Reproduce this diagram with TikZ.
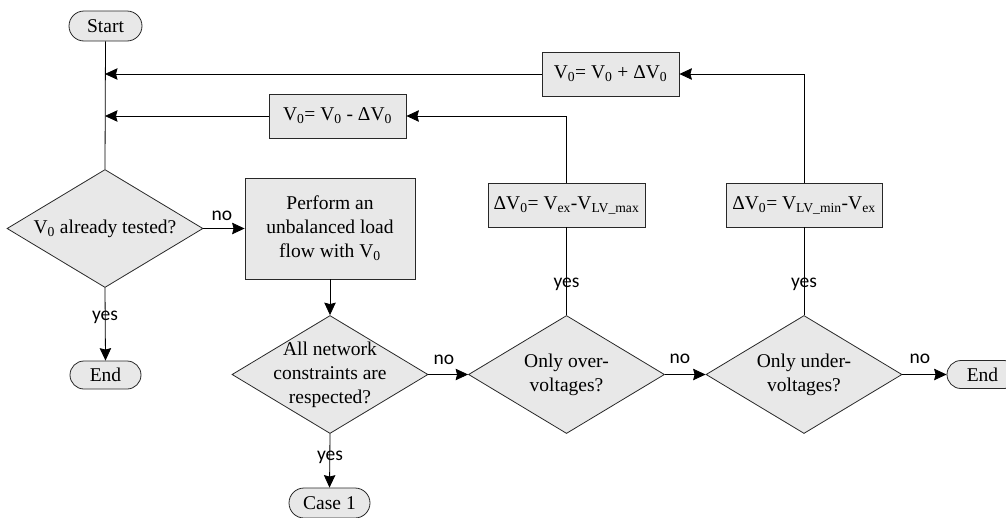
\documentclass[tikz,border=0pt]{standalone}
\usepackage{fontspec}
\setmainfont{Liberation Serif}
\newfontfamily\labelfont{Carlito}
\usetikzlibrary{shapes.geometric,shapes.misc,arrows.meta}
\definecolor{boxgray}{RGB}{232,232,232}
\definecolor{edgegray}{RGB}{40,40,40}
\begin{document}
\begin{tikzpicture}[x=1pt,y=-1pt,
  txt/.style={font=\fontsize{19.5}{24}\selectfont, align=center, inner sep=0pt},
  proc/.style={rectangle, draw=edgegray, fill=boxgray, line width=0.8pt, inner sep=0pt, txt},
  term/.style={rounded rectangle, draw=edgegray, fill=boxgray, line width=0.8pt, inner sep=0pt, txt},
  dec/.style={diamond, draw=edgegray, fill=boxgray, line width=0.8pt, inner sep=0pt, minimum width=196pt, minimum height=118pt},
  lbl/.style={font=\labelfont\fontsize{19.5}{23}\selectfont, inner sep=0pt},
  con/.style={line width=0.8pt},
  arr/.style={con, -{Stealth[length=12.5pt,width=11.5pt,inset=1.5pt]}}
]
\clip (0,0) rectangle (1006,517);

% nodes
\node[term, minimum width=73pt, minimum height=30pt] (start) at (105.5,26) {Start};
\node[proc, minimum width=137pt, minimum height=44pt] (plus) at (610.5,74) {V\textsubscript{0}= V\textsubscript{0} + ΔV\textsubscript{0}};
\node[proc, minimum width=137pt, minimum height=44pt] (minus) at (337.5,116) {V\textsubscript{0}= V\textsubscript{0} - ΔV\textsubscript{0}};
\node[proc, minimum width=157pt, minimum height=44pt] (dover) at (566.5,205) {ΔV\textsubscript{0}= V\textsubscript{ex}-V\textsubscript{LV\_max}};
\node[proc, minimum width=156pt, minimum height=44pt] (dunder) at (804,205) {ΔV\textsubscript{0}= V\textsubscript{LV\_min}-V\textsubscript{ex}};

\node[dec] (d1) at (105,228.5) {};
\node[txt] (d1t) at (d1) {V\textsubscript{0} already tested?};
\node[proc, minimum width=170pt, minimum height=101pt] (perform) at (330,228.5) {Perform an\\unbalanced load\\flow with V\textsubscript{0}};
\node[term, minimum width=71pt, minimum height=28pt] (endl) at (105.5,375) {End};

\node[dec] (d2) at (330,374.5) {};
\node[txt] (d2t) at (d2) {All network\\constraints are\\respected?};
\node[term, minimum width=81pt, minimum height=30pt] (case1) at (329.5,503) {Case 1};

\node[dec] (d3) at (566.5,374.5) {};
\node[txt] (d3t) at (d3) {Only over-\\voltages?};
\node[dec] (d4) at (804,374.5) {};
\node[txt] (d4t) at (d4) {Only under-\\voltages?};
\node[term, minimum width=71pt, minimum height=28pt] (endr) at (982.5,374.5) {End};

\coordinate (j1) at (105,74);
\coordinate (j2) at (105,116);

% connectors
\draw[con] (start.south) -- (d1.north);
\draw[arr] (plus.west) -- (j1);
\draw[arr] (minus.west) -- (j2);
\draw[arr] (dover.north) |- (minus.east);
\draw[arr] (dunder.north) |- (plus.east);
\draw[arr] (d1.east) -- (perform.west);
\draw[arr] (perform.south) -- (d2.north);
\draw[arr] (d1.south) -- (endl.north);
\draw[arr] (d2.south) -- (case1.north);
\draw[arr] (d2.east) -- (d3.west);
\draw[con] (d3.north) -- (dover.south);
\draw[arr] (d3.east) -- (d4.west);
\draw[con] (d4.north) -- (dunder.south);
\draw[arr] (d4.east) -- (endr.west);

% labels
\node[lbl] (l1) at (222,216) {no};
\node[lbl] (l2) at (105,317) {yes};
\node[lbl] (l3) at (330,457) {yes};
\node[lbl] (l4) at (444,360) {no};
\node[lbl] (l5) at (566.5,284) {yes};
\node[lbl] (l6) at (680,359) {no};
\node[lbl] (l7) at (804,284) {yes};
\node[lbl] (l8) at (920,359) {no};
\end{tikzpicture}
\end{document}
